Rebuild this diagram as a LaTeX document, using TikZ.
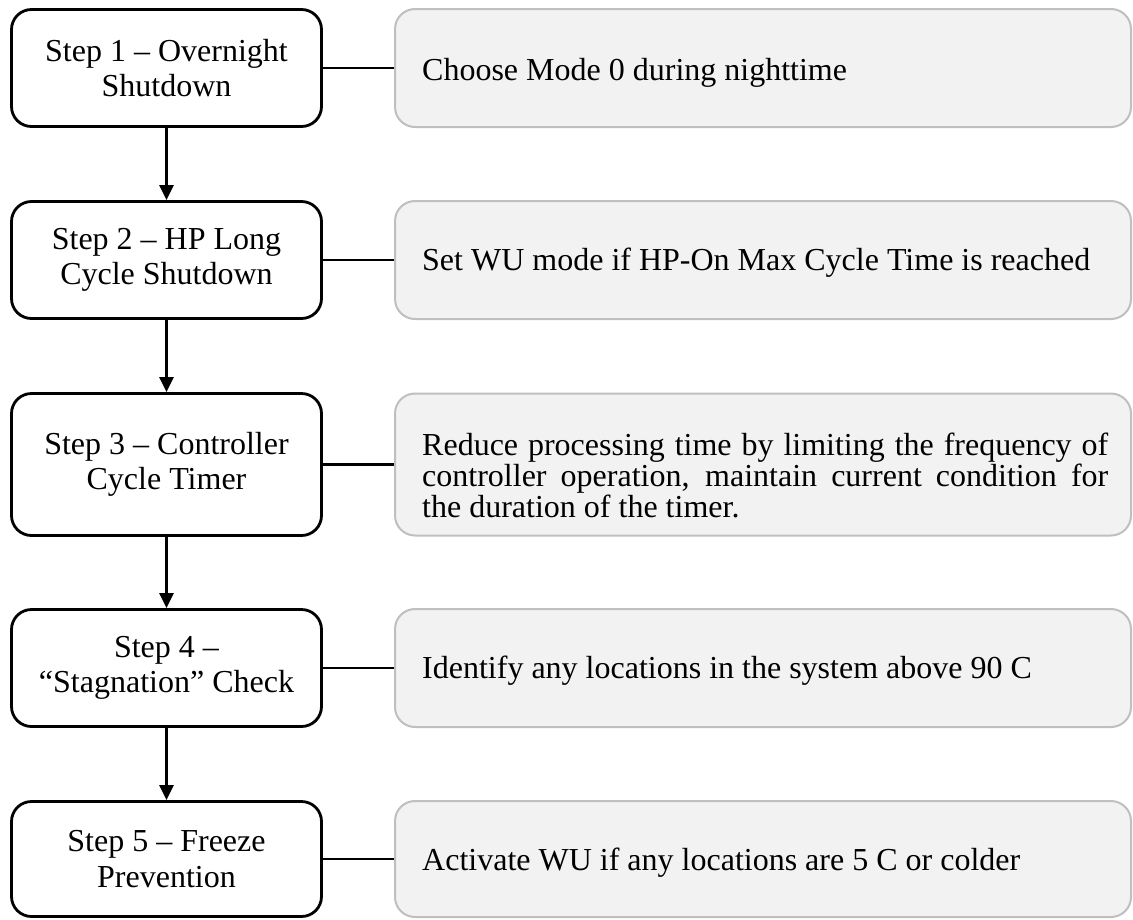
\documentclass[tikz,border=0pt]{standalone}
\usepackage{fontspec}
\setmainfont{Liberation Serif}
\usetikzlibrary{arrows.meta}
\definecolor{descfill}{HTML}{F2F2F2}
\definecolor{descline}{HTML}{BFBFBF}
\begin{document}
\begin{tikzpicture}[x=1pt,y=-1pt,
  stepbox/.style={draw=black, line width=2.8pt, rounded corners=20pt, fill=white,
    minimum width=310pt, align=center, inner sep=0pt,
    font=\fontsize{32}{35.5}\selectfont},
  descbox/.style={draw=descline, line width=2pt, fill=descfill, rounded corners=20pt,
    minimum width=736pt, inner sep=0pt},
  desctext/.style={anchor=west, inner sep=0pt, align=flush left,
    font=\fontsize{32}{31}\selectfont},
  flow/.style={line width=2.4pt, -{Triangle[length=15pt,width=14pt]}},
  conn/.style={line width=2.4pt}]
\useasboundingbox (0,0) rectangle (1133,919);
% left step boxes
\node[stepbox, minimum height=117pt] (s1) at (166.5,68) {Step 1 – Overnight\\Shutdown};
\node[stepbox, minimum height=117pt] (s2) at (166.5,260) {Step 2 – HP Long\\Cycle Shutdown};
\node[stepbox, minimum height=142pt] (s3) at (166.5,464.5) {Step 3 – Controller\\Cycle Timer};
\node[stepbox, minimum height=117pt] (s4) at (166.5,668) {Step 4 –\\“Stagnation” Check};
\node[stepbox, minimum height=115pt] (s5) at (166.5,859) {Step 5 – Freeze\\Prevention};
% right description boxes
\node[descbox, minimum height=118pt] (d1) at (763,68) {};
\node[descbox, minimum height=118pt] (d2) at (763,260) {};
\node[descbox, minimum height=142pt] (d3) at (763,464.5) {};
\node[descbox, minimum height=118pt] (d4) at (763,668) {};
\node[descbox, minimum height=116pt] (d5) at (763,859) {};
\node[desctext] (t1) at ([xshift=28pt,yshift=-5pt]d1.west) {Choose Mode 0 during nighttime};
\node[desctext] (t2) at ([xshift=28pt,yshift=-3pt]d2.west) {Set WU mode if HP-On Max Cycle Time is reached};
\node[desctext, align=justify, text width=686pt] (t3) at ([xshift=28pt,yshift=-11pt]d3.west) {Reduce processing time by limiting the frequency of\linebreak controller operation, maintain current condition for\linebreak the duration of the timer.};
\node[desctext] (t4) at ([xshift=28pt,yshift=-3pt]d4.west) {Identify any locations in the system above 90 C};
\node[desctext] (t5) at ([xshift=28pt,yshift=-4pt]d5.west) {Activate WU if any locations are 5 C or colder};
% connectors
\draw[flow] (s1) -- (s2);
\draw[flow] (s2) -- (s3);
\draw[flow] (s3) -- (s4);
\draw[flow] (s4) -- (s5);
\draw[conn] (s1) -- (d1);
\draw[conn] (s2) -- (d2);
\draw[conn] (s3) -- (d3);
\draw[conn] (s4) -- (d4);
\draw[conn] (s5) -- (d5);
\end{tikzpicture}
\end{document}
